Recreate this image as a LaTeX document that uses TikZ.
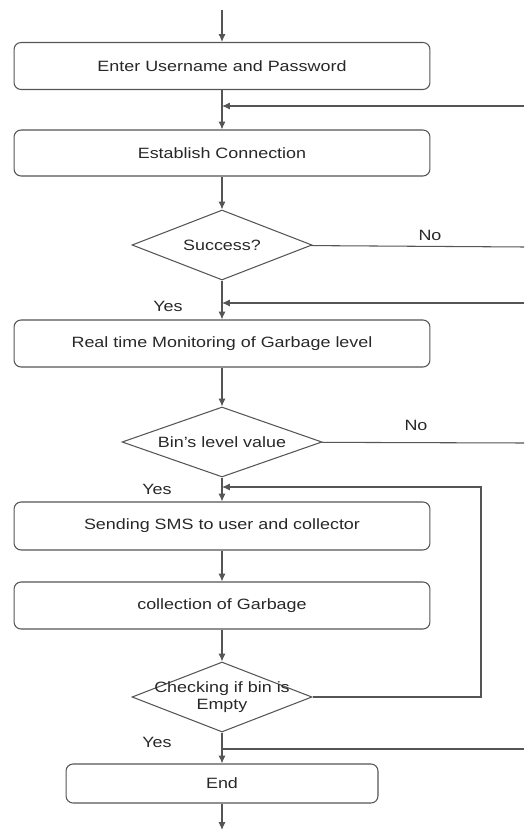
\documentclass[tikz,border=0pt]{standalone}
\usepackage{fontspec}
\setmainfont{Liberation Sans}[FakeStretch=1.2]
\usepackage{tikz}
\usetikzlibrary{shapes,arrows.meta,positioning}
\definecolor{linegray}{RGB}{85,85,85}
\definecolor{textgray}{RGB}{40,40,40}
\tikzstyle{proc} = [draw=linegray,rounded corners=4pt,minimum width=8.32cm,minimum height=0.94cm,inner sep=0pt,text=textgray,font=\fontsize{8.5}{10}\selectfont]
\tikzstyle{decision} = [diamond,draw=linegray,shape aspect=2.6,minimum width=3.6cm,minimum height=1.4cm,inner sep=-3.5pt,align=center,text=textgray,font=\fontsize{8.5}{10}\selectfont]
\tikzstyle{tag} = [text=textgray,font=\fontsize{8.5}{10}\selectfont]
\tikzset{>={Latex[length=4.5pt,width=4pt]}}

\begin{document}
\begin{tikzpicture}[x=0.02cm,y=-0.02cm,line width=0.6pt,draw=linegray]
    \useasboundingbox (0,0) rectangle (524,830);
    \node [proc] (enter) at (222,66) {Enter Username and Password};
    \node [proc,minimum height=0.92cm] (connect) at (222,153) {Establish Connection};
    \node [decision] (success) at (222,245) {Success?};
    \node [proc] (monitor) at (222,343.5) {Real time Monitoring of Garbage level};
    \node [decision,minimum width=4cm] (level) at (222,442) {Bin's level value};
    \node [proc,minimum height=0.96cm] (sms) at (222,526) {Sending SMS to user and collector};
    \node [proc] (collect) at (222,605.5) {collection of Garbage};
    \node [decision] (empty) at (222,697) {Checking if bin is\\Empty};
    \node [proc,minimum width=6.24cm,minimum height=0.78cm] (finish) at (222,783.5) {End};
    \coordinate (top) at (222,10);
    \coordinate (bottom) at (222,830);
    \coordinate (in1) at (524,106);
    \coordinate (j1) at (222,106);
    \coordinate (out1) at (524,247);
    \coordinate (in2) at (524,303);
    \coordinate (j2) at (222,303);
    \coordinate (out2) at (524,443);
    \coordinate (loop) at (481,487);
    \coordinate (j3) at (222,487);
    \coordinate (in3) at (524,749);
    \coordinate (j4) at (222,749);
    \draw [->] (top) -- (enter);
    \draw [->] (enter) -- (connect);
    \draw [->] (in1) -- (j1);
    \draw [->] (connect) -- (success);
    \draw (success) -- (out1);
    \node [tag] (no1) at (430,235) {No};
    \draw [->] (success) -- (monitor);
    \node [tag] (yes1) at (168,306) {Yes};
    \draw [->] (in2) -- (j2);
    \draw [->] (monitor) -- (level);
    \draw (level) -- (out2);
    \node [tag] (no2) at (416,425) {No};
    \draw [->] (level) -- (sms);
    \node [tag] (yes2) at (157,489) {Yes};
    \draw [->] (empty.east) -| (loop) -- (j3);
    \draw [->] (sms) -- (collect);
    \draw [->] (collect) -- (empty);
    \draw [->] (empty) -- (finish);
    \node [tag] (yes3) at (157,742) {Yes};
    \draw (in3) -- (j4);
    \draw [->] (finish) -- (bottom);
  \end{tikzpicture}
\end{document}
